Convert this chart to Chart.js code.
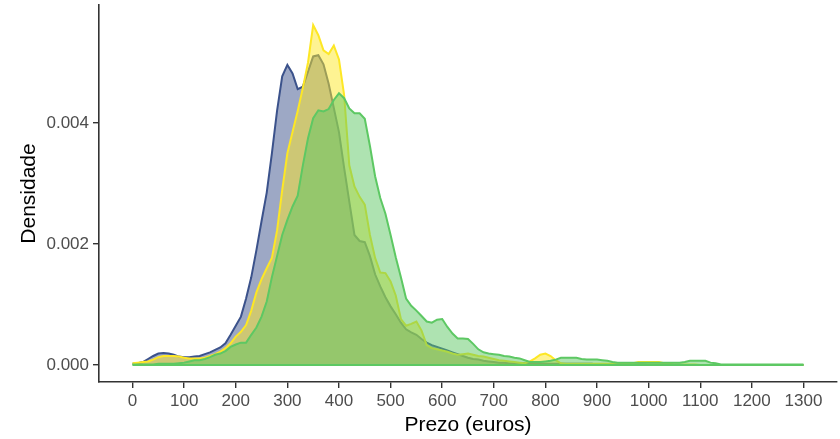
<!DOCTYPE html>
<html>
<head>
<meta charset="utf-8">
<script src="https://cdn.jsdelivr.net/npm/chart.js@4.4.1/dist/chart.umd.min.js"></script>
<style>
  html, body { margin: 0; padding: 0; background: #ffffff; }
  #wrap { width: 840px; height: 439px; }
</style>
</head>
<body>
<div id="wrap"><canvas id="c" width="840" height="439"></canvas></div>
<script>
// Price grid (euros)
const prezo = [
  0,10,20,30,40,50,60,70,80,90,
  100,110,120,130,140,150,160,170,180,190,
  200,210,220,230,240,250,260,270,280,290,
  300,310,320,330,340,350,360,370,380,390,
  400,410,420,430,440,450,460,470,480,490,
  500,510,520,530,540,550,560,570,580,590,
  600,610,620,630,640,650,660,670,680,690,
  700,710,720,730,740,750,760,770,780,790,
  800,810,820,830,840,850,860,870,880,890,
  900,910,920,930,940,950,960,970,980,990,
  1000,1010,1020,1030,1040,1050,1060,1070,1080,1090,
  1100,1110,1120,1130,1140,1150,1160,1170,1180,1190,
  1200,1210,1220,1230,1240,1250,1260,1270,1280,1290,
  1300
];

// Densities
const densBlue = [
  0.00002,0.00003,0.00005,0.00010,0.00015,0.00019,0.00020,0.00019,0.00017,0.00014,
  0.00013,0.00013,0.00014,0.00015,0.00018,0.00021,0.00025,0.00029,0.00036,0.00050,
  0.00065,0.00080,0.00110,0.00145,0.00190,0.00238,0.00285,0.00350,0.00420,0.00477,
  0.00496,0.00482,0.00456,0.00460,0.00485,0.00510,0.00512,0.00497,0.00465,0.00425,
  0.00385,0.00326,0.00270,0.00215,0.00205,0.00203,0.00180,0.00150,0.00130,0.00112,
  0.00097,0.00084,0.00070,0.00059,0.00054,0.00050,0.00043,0.00037,0.00033,0.00030,
  0.00027,0.00024,0.00021,0.00018,0.00015,0.00012,0.00010,0.00009,0.00007,0.00006,
  0.00005,0.00004,0.00004,0.00003,0.00003,0.00003,0.00003,0.00003,0.00002,0.00002,
  0.00002,0.00002,0.00002,0.00002,0.00002,0.00002,0.00002,0.00002,0.00002,0.00002,
  0.00001,0.00001,0.00001,0.00001,0.00001,0.00001,0.00001,0.00001,0.00001,0.00001,
  0,0,0,0,0,0,0,0,0,0,
  0,0,0,0,0,0,0,0,0,0,
  0,0,0,0,0,0,0,0,0,0,
  0
];

const densYellow = [
  0.00003,0.00004,0.00005,0.00006,0.00009,0.00013,0.00015,0.00015,0.00015,0.00014,
  0.00012,0.00011,0.00011,0.00011,0.00012,0.00015,0.00018,0.00022,0.00028,0.00036,
  0.00047,0.00055,0.00066,0.00090,0.00120,0.00142,0.00160,0.00177,0.00222,0.00289,
  0.00350,0.00385,0.00420,0.00458,0.00500,0.00562,0.00545,0.00520,0.00514,0.00528,
  0.00505,0.00446,0.00330,0.00295,0.00278,0.00265,0.00215,0.00177,0.00153,0.00152,
  0.00138,0.00115,0.00076,0.00065,0.00068,0.00072,0.00057,0.00033,0.00028,0.00026,
  0.00024,0.00022,0.00019,0.00017,0.00018,0.00019,0.00017,0.00015,0.00014,0.00012,
  0.00010,0.00008,0.00007,0.00006,0.00005,0.00004,0.00003,0.00006,0.00011,0.00017,
  0.00019,0.00015,0.00008,0.00003,0.00002,0.00002,0.00002,0.00002,0.00002,0.00002,
  0.00002,0.00002,0.00002,0.00002,0.00002,0.00002,0.00002,0.00003,0.00005,0.00005,
  0.00005,0.00005,0.00005,0.00003,0.00002,0.00001,0.00001,0.00001,0.00001,0.00001,
  0,0,0,0,0,0,0,0,0,0,
  0,0,0,0,0,0,0,0,0,0,
  0
];

const densGreen = [
  0.00001,0.00001,0.00001,0.00001,0.00001,0.00002,0.00002,0.00002,0.00002,0.00003,
  0.00004,0.00006,0.00008,0.00008,0.00010,0.00013,0.00017,0.00019,0.00023,0.00030,
  0.00034,0.00037,0.00037,0.00050,0.00062,0.00080,0.00105,0.00145,0.00180,0.00215,
  0.00240,0.00262,0.00280,0.00330,0.00375,0.00408,0.00421,0.00419,0.00423,0.00438,
  0.00449,0.00441,0.00424,0.00416,0.00416,0.00407,0.00362,0.00312,0.00276,0.00250,
  0.00215,0.00178,0.00145,0.00110,0.00098,0.00090,0.00081,0.00072,0.00070,0.00075,
  0.00076,0.00063,0.00052,0.00044,0.00044,0.00043,0.00035,0.00026,0.00021,0.00019,
  0.00018,0.00017,0.00015,0.00014,0.00012,0.00011,0.00008,0.00005,0.00005,0.00005,
  0.00006,0.00007,0.00009,0.00012,0.00012,0.00012,0.00012,0.00010,0.00009,0.00009,
  0.00009,0.00008,0.00007,0.00005,0.00004,0.00004,0.00004,0.00004,0.00004,0.00004,
  0.00004,0.00004,0.00004,0.00004,0.00004,0.00004,0.00004,0.00005,0.00007,0.00007,
  0.00007,0.00007,0.00004,0.00003,0.00001,0.00001,0.00001,0.00001,0.00001,0.00001,
  0.00001,0.00001,0.00001,0.00001,0.00001,0.00001,0.00001,0.00001,0.00001,0.00001,
  0.00001
];

const xTickValues = [0,100,200,300,400,500,600,700,800,900,1000,1100,1200,1300];
const yTickValues = [0, 0.002, 0.004];

function pts(ys) { return prezo.map((x, i) => ({ x: x, y: ys[i] })); }
const baseline = [{ x: prezo[0], y: 0 }, { x: prezo[prezo.length - 1], y: 0 }];

const common = { pointRadius: 0, borderWidth: 2, tension: 0, fill: 'origin' };

new Chart(document.getElementById('c'), {
  type: 'line',
  data: {
    datasets: [
      Object.assign({ label: 'A', data: pts(densBlue), borderColor: '#3B528B', backgroundColor: 'rgba(59,82,139,0.5)', order: 4 }, common),
      Object.assign({ label: 'B', data: pts(densYellow), borderColor: '#FDE725', backgroundColor: 'rgba(253,231,37,0.5)', order: 3 }, common),
      Object.assign({ label: 'C', data: pts(densGreen), borderColor: '#5DC863', backgroundColor: 'rgba(93,200,99,0.5)', order: 2 }, common),
      { label: 'base', data: baseline, borderColor: '#5DC863', borderWidth: 2, pointRadius: 0, fill: false, order: 1 }
    ]
  },
  options: {
    responsive: false,
    animation: false,
    devicePixelRatio: 1,
    layout: { padding: { top: 5, right: 3, left: 0, bottom: 0 } },
    plugins: { legend: { display: false }, tooltip: { enabled: false } },
    scales: {
      x: {
        type: 'linear',
        min: -65,
        max: 1365,
        afterBuildTicks: (s) => { s.ticks = xTickValues.map(v => ({ value: v })); },
        afterFit: (s) => { s.height = 57; s.paddingLeft = 0; s.paddingRight = 0; },
        border: { display: true, color: '#333333', width: 1.6 },
        grid: { display: true, drawOnChartArea: false, drawTicks: true, tickLength: 6, color: '#333333', lineWidth: 1.4 },
        ticks: { autoSkip: false, maxRotation: 0, padding: 3, color: '#4d4d4d', font: { family: 'Liberation Sans, Arial, sans-serif', size: 17 }, callback: (v) => String(v) },
        title: { display: true, text: 'Prezo (euros)', color: '#000000', font: { family: 'Liberation Sans, Arial, sans-serif', size: 21 }, padding: { top: 0, bottom: 1 } }
      },
      y: {
        type: 'linear',
        min: -0.00028,
        max: 0.00595,
        afterBuildTicks: (s) => { s.ticks = yTickValues.map(v => ({ value: v })); },
        afterFit: (s) => { s.width = 99; s.paddingTop = 0; s.paddingBottom = 0; },
        border: { display: true, color: '#333333', width: 1.6 },
        grid: { display: true, drawOnChartArea: false, drawTicks: true, tickLength: 6, color: '#333333', lineWidth: 1.4 },
        ticks: { autoSkip: false, padding: 4, color: '#4d4d4d', font: { family: 'Liberation Sans, Arial, sans-serif', size: 17 }, callback: (v) => Number(v).toFixed(3) },
        title: { display: true, text: 'Densidade', color: '#000000', font: { family: 'Liberation Sans, Arial, sans-serif', size: 21 }, padding: { top: 17, bottom: 0 } }
      }
    }
  }
});
</script>
</body>
</html>
